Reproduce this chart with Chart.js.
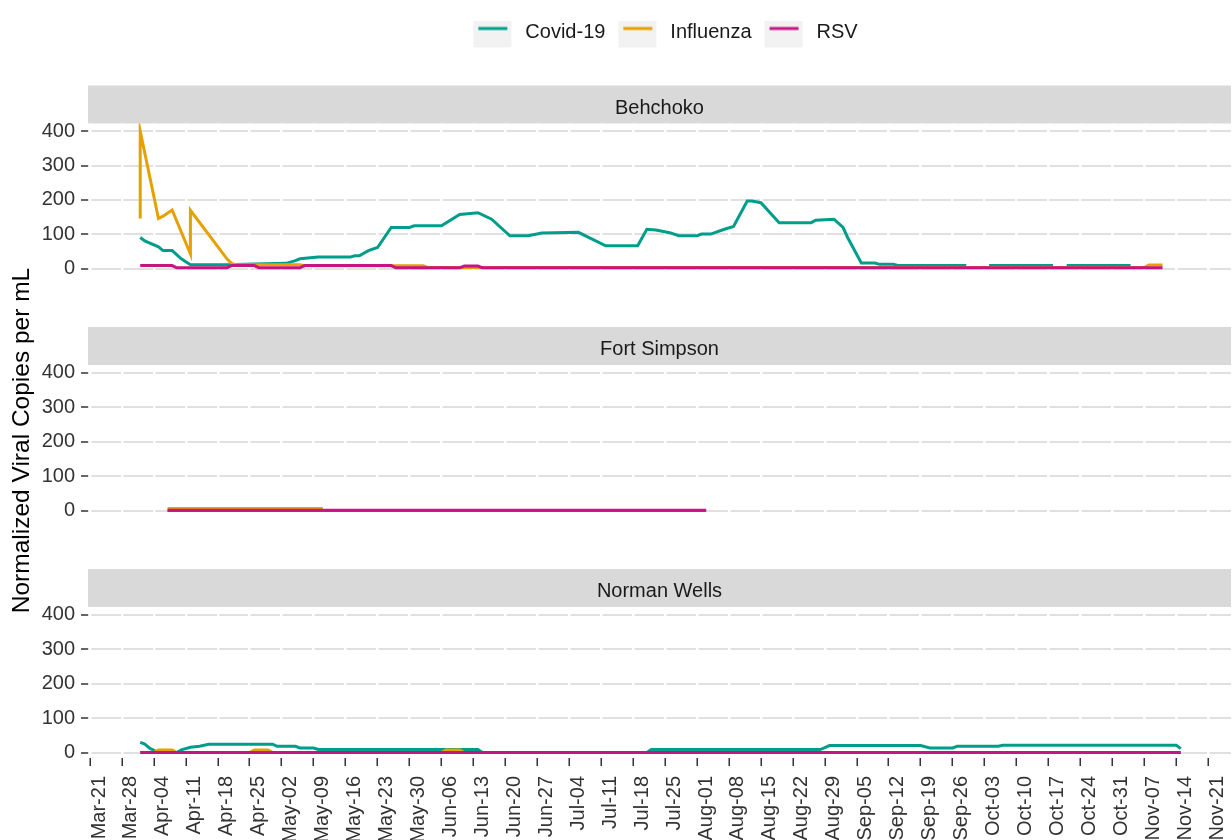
<!DOCTYPE html>
<html>
<head>
<meta charset="utf-8">
<title>Normalized viral copies - NWT wastewater</title>
<script src="https://cdn.jsdelivr.net/npm/chart.js@4.4.1/dist/chart.umd.min.js"></script>
<style>
  body { margin: 0; background: #fff; width: 1232px; height: 840px; overflow: hidden; position: relative; }
  canvas { position: absolute; left: 0; }
</style>
</head>
<body>
<canvas id="behchoko" width="1232" height="280" style="top:0px"></canvas>
<canvas id="fortSimpson" width="1232" height="390" style="top:250px"></canvas>
<canvas id="normanWells" width="1232" height="271" style="top:569px"></canvas>
<script>
// week ticks on the shared x axis
const tickLabels = ['Mar-21', 'Mar-28', 'Apr-04', 'Apr-11', 'Apr-18', 'Apr-25', 'May-02', 'May-09', 'May-16',
  'May-23', 'May-30', 'Jun-06', 'Jun-13', 'Jun-20', 'Jun-27', 'Jul-04', 'Jul-11', 'Jul-18', 'Jul-25',
  'Aug-01', 'Aug-08', 'Aug-15', 'Aug-22', 'Aug-29', 'Sep-05', 'Sep-12', 'Sep-19', 'Sep-26', 'Oct-03',
  'Oct-10', 'Oct-17', 'Oct-24', 'Oct-31', 'Nov-07', 'Nov-14', 'Nov-21'];
const yTicks = [0, 100, 200, 300, 400];

// [MM-DD, copies per mL]
const behchokoCovid = [['04-01', 91], ['04-02', 81], ['04-05', 64], ['04-06', 53], ['04-08', 53], ['04-10', 29],
  ['04-12', 12], ['04-20', 12], ['04-26', 14], ['05-03', 16], ['05-05', 24], ['05-06', 29], ['05-10', 34],
  ['05-17', 34], ['05-18', 38], ['05-19', 38], ['05-21', 53], ['05-23', 62], ['05-26', 120], ['05-30', 120],
  ['05-31', 125], ['06-06', 125], ['06-10', 158], ['06-14', 163], ['06-17', 144], ['06-21', 96], ['06-25', 96],
  ['06-28', 104], ['07-06', 106], ['07-12', 67], ['07-19', 67], ['07-21', 115], ['07-23', 113], ['07-26', 105],
  ['07-28', 96], ['08-01', 96], ['08-02', 101], ['08-04', 101], ['08-07', 115], ['08-09', 123], ['08-12', 197],
  ['08-13', 197], ['08-15', 192], ['08-19', 134], ['08-26', 134], ['08-27', 141], ['08-31', 144], ['09-02', 120],
  ['09-03', 91], ['09-06', 17], ['09-09', 17], ['09-10', 13], ['09-13', 13], ['09-14', 10], ['09-29', 10],
  ['09-30', null], ['10-03', null], ['10-04', 10], ['10-18', 10], ['10-19', null], ['10-20', null],
  ['10-21', 10], ['11-04', 10]];
const behchokoFlu = [['04-01', 146], ['04-01', 400], ['04-05', 146], ['04-06', 153], ['04-08', 171],
  ['04-12', 43], ['04-12', 170], ['04-20', 29], ['04-21', 16], ['04-22', 12], ['05-06', 12], ['05-07', 9],
  ['06-02', 9], ['06-03', 4], ['11-07', 4], ['11-08', 11], ['11-11', 11]];
const behchokoRsv = [['04-01', 9.5], ['04-08', 9.5], ['04-09', 3], ['04-20', 3], ['04-21', 9.5], ['04-26', 9.5],
  ['04-27', 3], ['05-06', 3], ['05-07', 9.5], ['05-26', 9.5], ['05-27', 3], ['06-10', 3], ['06-11', 8],
  ['06-14', 8], ['06-15', 3], ['11-11', 3]];

const fortSimpsonCovid = [['04-07', 1], ['08-03', 1]];
const fortSimpsonFlu = [['04-07', 7], ['05-11', 7]];
const fortSimpsonRsv = [['04-07', 2], ['08-03', 2]];

const normanWellsCovid = [['04-01', 30], ['04-02', 25], ['04-03', 14], ['04-04', 7], ['04-05', 1], ['04-09', 1],
  ['04-10', 8.5], ['04-12', 16], ['04-14', 19], ['04-16', 25], ['04-30', 25], ['05-01', 19], ['05-05', 19],
  ['05-06', 14], ['05-09', 14], ['05-10', 9.5], ['06-14', 9.5], ['06-15', 1], ['07-21', 1], ['07-22', 9.5],
  ['08-28', 9.5], ['08-29', 15], ['08-30', 21], ['09-19', 21], ['09-21', 14], ['09-26', 14], ['09-27', 19],
  ['10-06', 19], ['10-07', 22], ['11-14', 22], ['11-15', 12]];
const normanWellsFlu = [['04-01', 1], ['04-04', 1], ['04-05', 8.5], ['04-08', 8.5], ['04-09', 1], ['04-25', 1],
  ['04-26', 8.5], ['04-29', 8.5], ['04-30', 1], ['06-06', 1], ['06-07', 8.5], ['06-10', 8.5], ['06-11', 1],
  ['11-15', 1]];
const normanWellsRsv = [['04-01', 1], ['11-15', 1]];

const covidColor = '#009E8A';
const fluColor = '#E6A000';
const rsvColor = '#C61482';

const MONTHS = ['Jan', 'Feb', 'Mar', 'Apr', 'May', 'Jun', 'Jul', 'Aug', 'Sep', 'Oct', 'Nov', 'Dec'];
const START = Date.UTC(2021, 2, 21);

function dayOf(mmdd) {
  const [m, d] = mmdd.split('-').map(Number);
  return (Date.UTC(2021, m - 1, d) - START) / 864e5;
}

function tickDay(label) {
  const [mon, d] = label.split('-');
  return (Date.UTC(2021, MONTHS.indexOf(mon), +d) - START) / 864e5;
}

function toPoints(series) {
  return series.map(([date, v]) => ({ x: dayOf(date), y: v }));
}

// grey key square with the line sample, used as legend point style.
// Square sits right/up inside the image so it lines up with the text like ggplot keys.
function legendKey(color) {
  const c = document.createElement('canvas');
  c.width = 54;
  c.height = 45;
  const g = c.getContext('2d');
  g.fillStyle = '#F2F2F2';
  g.fillRect(12, 0, 38, 38);
  g.strokeStyle = color;
  g.lineWidth = 3;
  g.beginPath();
  g.moveTo(17, 19);
  g.lineTo(46, 19);
  g.stroke();
  return c;
}

// facet strip: grey band behind the chart title
const stripPlugin = {
  id: 'strip',
  beforeDraw(chart) {
    const t = chart.titleBlock;
    if (!t) return;
    const ctx = chart.ctx;
    ctx.save();
    ctx.fillStyle = '#D9D9D9';
    ctx.fillRect(t.left, t.top + t.height - 38, t.width, 38);
    ctx.restore();
  }
};

Chart.defaults.font.family = "'Liberation Sans', Arial, sans-serif";
Chart.defaults.font.size = 20;

const tickDays = tickLabels.map(tickDay);

function makePanel(id, site, covid, flu, rsv, cfg) {
  const isBottom = !!cfg.bottom;
  return new Chart(document.getElementById(id), {
    type: 'line',
    data: {
      datasets: [
        { label: 'Covid-19', data: toPoints(covid), borderColor: covidColor, order: 2 },
        { label: 'Influenza', data: toPoints(flu), borderColor: fluColor, order: 1 },
        { label: 'RSV', data: toPoints(rsv), borderColor: rsvColor, order: 0 }
      ]
    },
    options: {
      responsive: false,
      animation: false,
      events: [],
      layout: { padding: { top: cfg.padTop || 0, right: 1, left: 0, bottom: cfg.padBottom || 0 } },
      elements: {
        line: { borderWidth: 3, tension: 0, fill: false },
        point: { radius: 0 }
      },
      spanGaps: false,
      plugins: {
        tooltip: { enabled: false },
        legend: {
          display: !!cfg.legend,
          position: 'top',
          fullSize: false,
          weight: 1000,
          labels: {
            usePointStyle: true,
            pointStyleWidth: 54,
            padding: 1,
            color: '#1A1A1A',
            font: { size: 20 },
            generateLabels: chart => chart.data.datasets.map((ds, i) => ({
              text: ds.label,
              pointStyle: legendKey(ds.borderColor),
              datasetIndex: i,
              hidden: false,
              lineWidth: 0,
              fillStyle: 'rgba(0,0,0,0)',
              strokeStyle: 'rgba(0,0,0,0)',
              fontColor: '#1A1A1A'
            }))
          }
        },
        title: {
          display: true,
          text: site,
          position: 'top',
          fullSize: false,
          weight: 500,
          color: '#1A1A1A',
          font: { size: 20, weight: 'normal', lineHeight: 1 },
          padding: { top: cfg.stripTop || 12.5, bottom: 5.5 }
        }
      },
      scales: {
        x: {
          type: 'linear',
          min: -0.44,
          max: 250,
          afterBuildTicks: s => { s.ticks = tickDays.map(v => ({ value: v })); },
          afterFit: s => { s.height = isBottom ? 82 : 6; s.paddingLeft = 0; s.paddingRight = 0; },
          ticks: {
            display: isBottom,
            autoSkip: false,
            minRotation: 90,
            maxRotation: 90,
            padding: 10,
            labelOffset: 9,
            color: '#333333',
            font: { size: 20 },
            callback: (v, i) => tickLabels[i]
          },
          grid: {
            color: '#FFFFFF',
            lineWidth: 2.5,
            z: -1,
            drawTicks: isBottom,
            tickLength: 8,
            tickColor: '#333333',
            tickWidth: 1.5
          },
          border: { display: false }
        },
        y: {
          min: -15,
          max: 422,
          afterBuildTicks: s => { s.ticks = yTicks.map(v => ({ value: v })); },
          afterFit: s => { s.width = 88; s.paddingTop = 0; s.paddingBottom = 0; },
          ticks: { color: '#333333', font: { size: 20 }, padding: 6 },
          grid: {
            color: '#E0E0E0',
            lineWidth: 2,
            z: -2,
            tickLength: 7,
            tickColor: '#333333',
            tickWidth: 1.5
          },
          border: { display: false },
          title: {
            display: !!cfg.yTitle,
            text: 'Normalized Viral Copies per mL',
            color: '#000000',
            font: { size: 24.5 },
            padding: { top: 8, bottom: 0 }
          }
        }
      }
    },
    plugins: [stripPlugin]
  });
}

makePanel('behchoko', 'Behchoko', behchokoCovid, behchokoFlu, behchokoRsv,
  { legend: true, padTop: 21, stripTop: 46 });
// taller canvas so the shared y title is not clipped
makePanel('fortSimpson', 'Fort Simpson', fortSimpsonCovid, fortSimpsonFlu, fortSimpsonRsv,
  { yTitle: true, padTop: 77, padBottom: 118 });
makePanel('normanWells', 'Norman Wells', normanWellsCovid, normanWellsFlu, normanWellsRsv,
  { bottom: true });
</script>
</body>
</html>
